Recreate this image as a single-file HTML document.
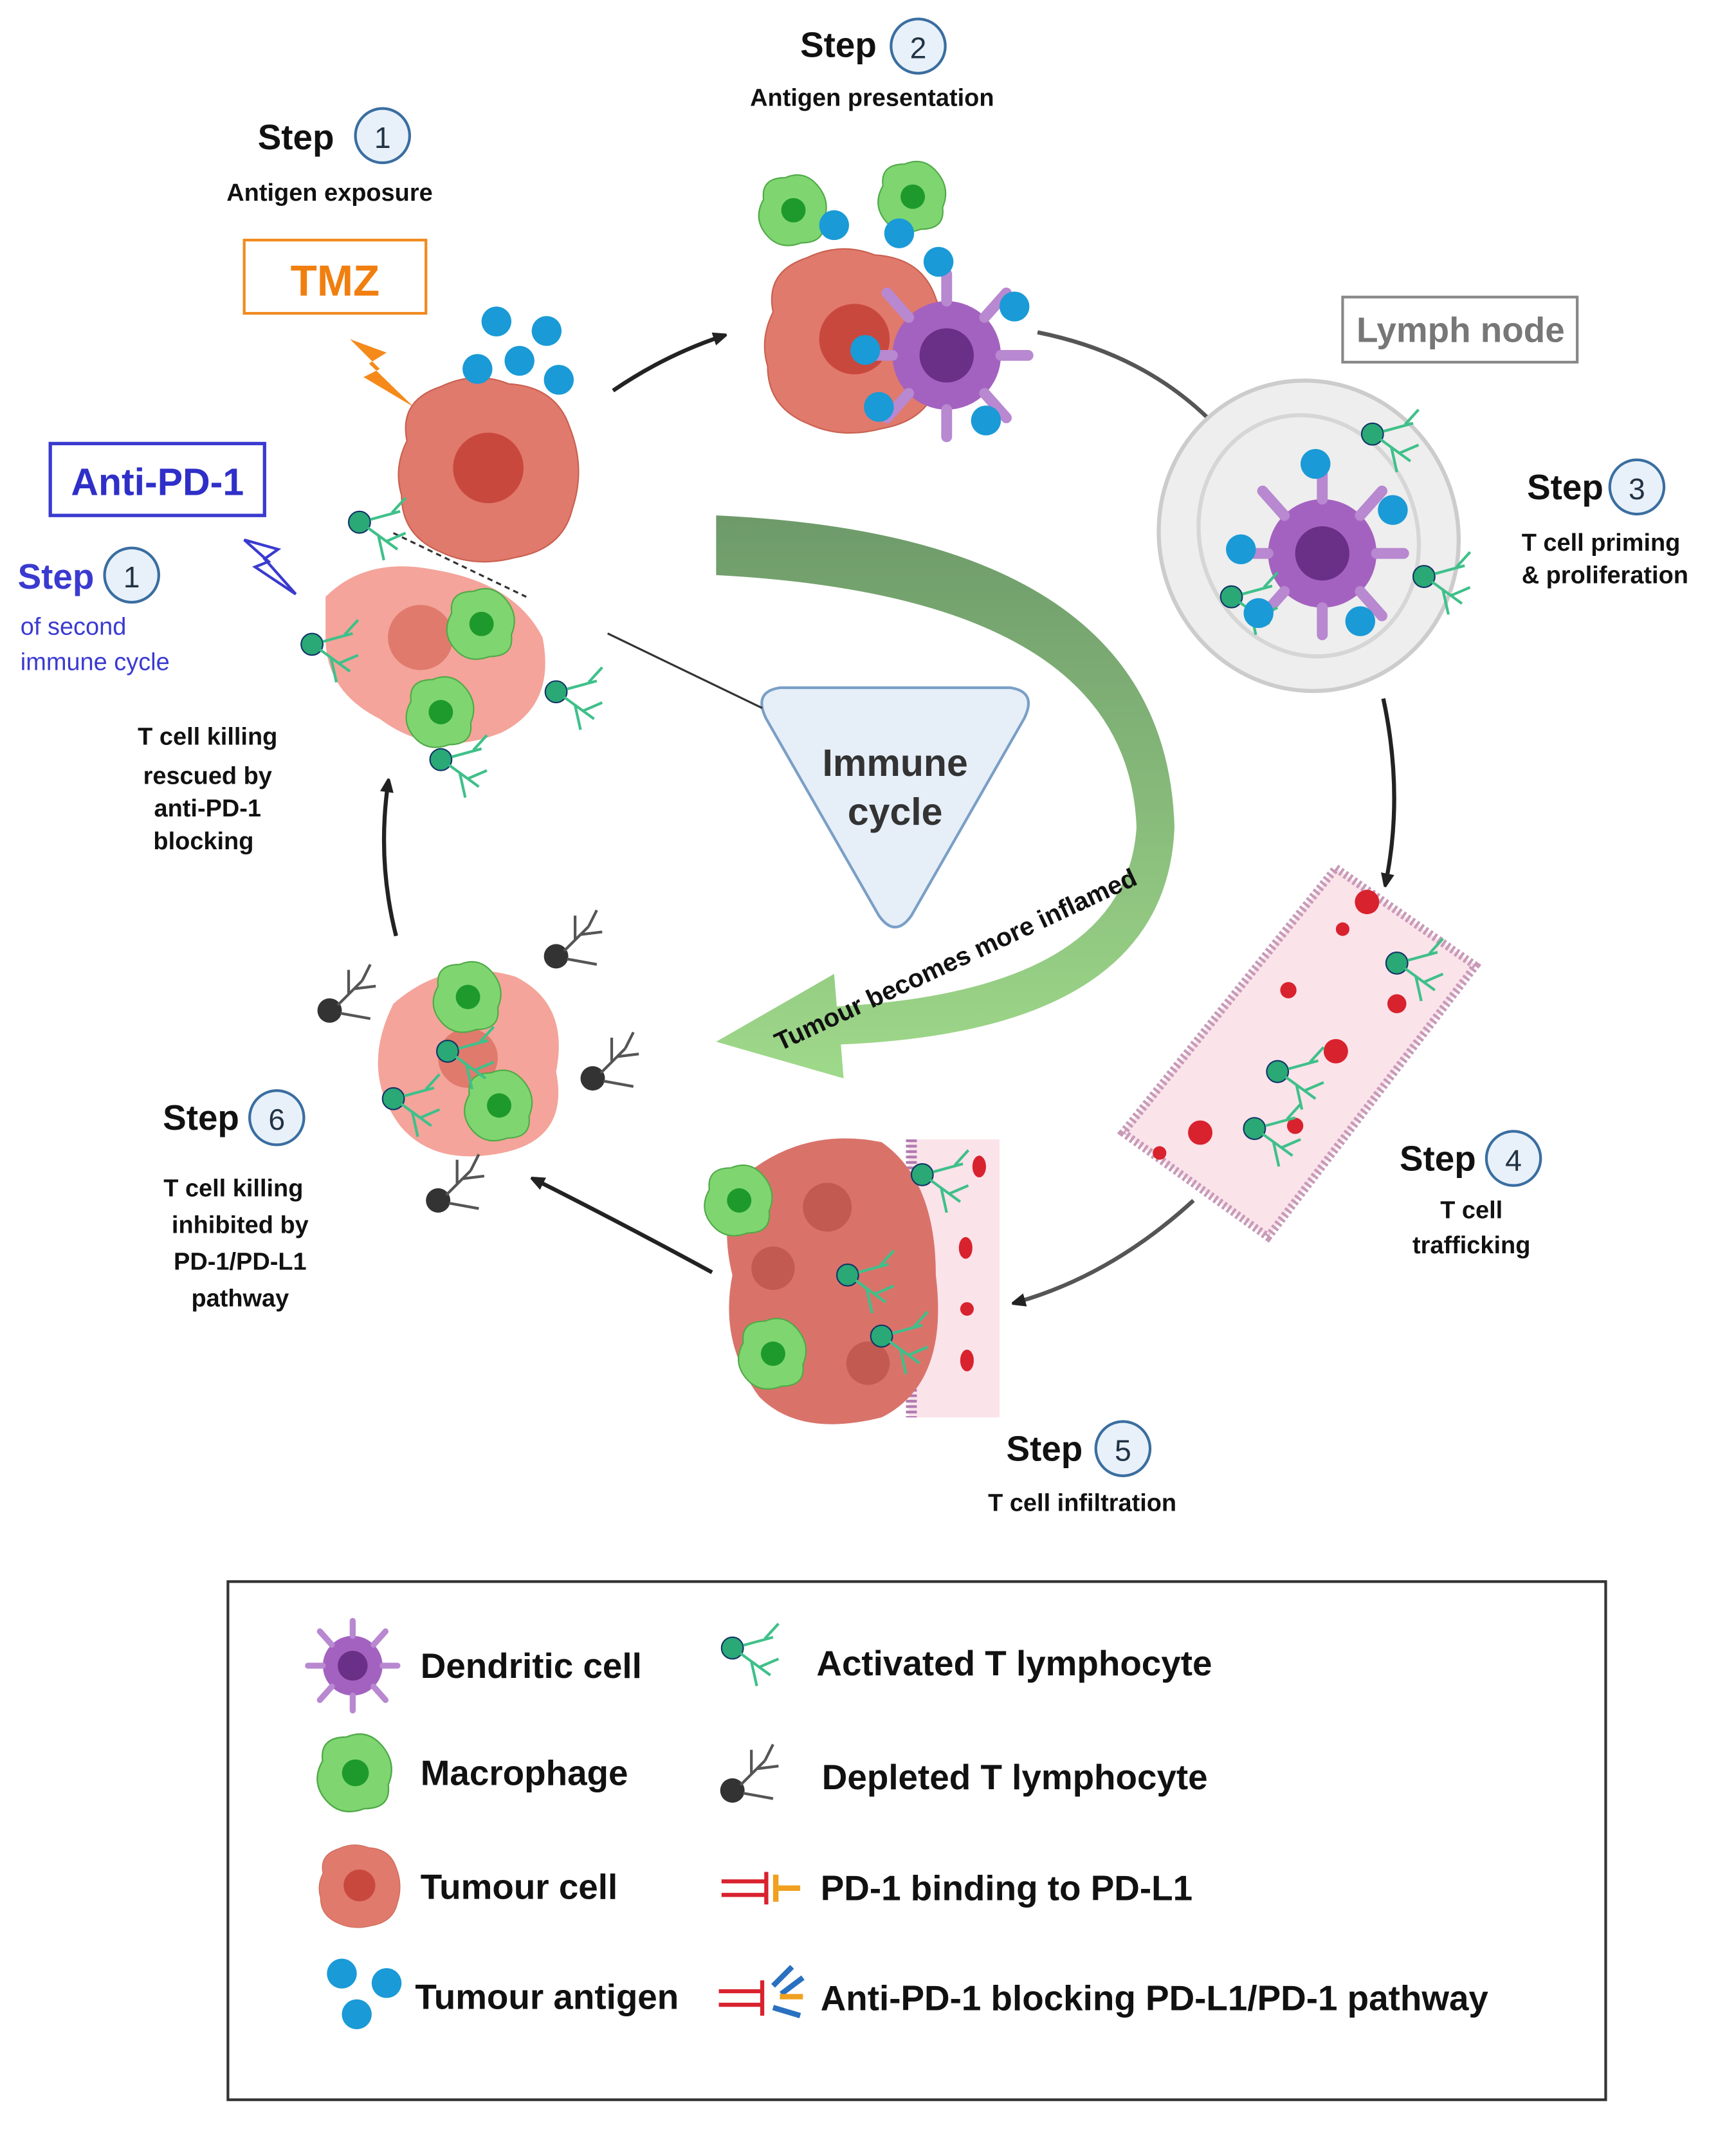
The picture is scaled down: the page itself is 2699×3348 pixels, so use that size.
<!DOCTYPE html>
<html><head><meta charset="utf-8">
<style>
html,body{margin:0;padding:0;background:#fff;}
svg{display:block;}
text{font-family:"Liberation Sans","DejaVu Sans",sans-serif;}
</style></head>
<body>
<svg width="2699" height="3348" viewBox="0 0 1280 1588" xmlns="http://www.w3.org/2000/svg">
<defs>
<marker id="ah" markerWidth="10" markerHeight="10" refX="6" refY="5" orient="auto" markerUnits="userSpaceOnUse"><path d="M0,0 L12,5 L0,10 Z" fill="#222"/></marker>
<linearGradient id="gg" x1="0" y1="0" x2="0" y2="1"><stop offset="0" stop-color="#6e9a6a"/><stop offset="1" stop-color="#9fd98a"/></linearGradient>
<g id="mac"><path d="M-22,-8 Q-24,-24 -6,-24 Q8,-30 18,-18 Q28,-6 22,8 Q24,24 6,24 Q-10,30 -20,18 Q-30,6 -22,-8Z" fill="#7fd670" stroke="#4fa947"/><circle r="9" fill="#1e9a2c"/></g>
<g id="tc"><circle r="8" fill="#2aa876" stroke="#136" stroke-width="1"/><path d="M6,4 L28,20 M14,10 L18,28 M20,14 L34,8 M8,-2 L30,-8 M24,-7 L34,-18" stroke="#3fc08a" stroke-width="2" fill="none"/></g>
<g id="dt"><circle r="9" fill="#333"/><path d="M6,-4 L24,-22 M14,-12 L14,-30 M18,-16 L34,-18 M24,-22 L30,-34 M8,2 L30,6" stroke="#555" stroke-width="2" fill="none"/></g>
<g id="ag"><circle r="11" fill="#1a9ad6"/></g>
<g id="tum"><path d="M-60,-20 Q-66,-50 -35,-60 Q-10,-72 15,-62 Q50,-60 60,-30 Q72,0 62,30 Q55,60 20,66 Q-10,74 -35,62 Q-64,50 -64,20 Q-70,0 -60,-20Z" fill="#e07a6c" stroke="#c9604f"/><circle r="26" fill="#c9483d"/></g>
<g id="dc"><circle r="40" fill="#a462c0"/><path d="M0,-40 L0,-60 M28,-28 L44,-46 M40,0 L60,0 M28,28 L44,46 M0,40 L0,60 M-28,28 L-44,46 M-40,0 L-60,0 M-28,-28 L-44,-46" stroke="#b888d0" stroke-width="8" stroke-linecap="round"/><circle r="20" fill="#6a2f86"/></g>
</defs>

<!-- big green arrow -->
<path d="M528,380 Q860,395 866,610 Q860,760 620,770 L622,795 L528,768 L615,718 L617,742 Q830,730 838,610 Q832,440 528,424 Z" fill="url(#gg)"/>
<text x="0" y="0" font-size="19" font-weight="bold" fill="#111" transform="translate(575,775) rotate(-25)">Tumour becomes more inflamed</text>

<!-- triangle -->
<path d="M575,507 L745,507 Q765,510 755,530 L672,675 Q660,692 648,675 L565,530 Q555,510 575,507Z" fill="#e6eef8" stroke="#7a9fc6" stroke-width="2"/>
<text x="660" y="572" font-size="28" font-weight="bold" text-anchor="middle" fill="#333">Immune</text>
<text x="660" y="608" font-size="28" font-weight="bold" text-anchor="middle" fill="#333">cycle</text>
<line x1="448" y1="467" x2="562" y2="522" stroke="#333" stroke-width="1.5"/>

<!-- arrows -->
<path d="M452,288 Q490,262 532,248" stroke="#222" stroke-width="3" fill="none" marker-end="url(#ah)"/>
<path d="M765,245 Q850,262 902,320" stroke="#555" stroke-width="3" fill="none" marker-end="url(#ah)"/>
<path d="M1020,515 Q1035,585 1022,650" stroke="#222" stroke-width="3" fill="none" marker-end="url(#ah)"/>
<path d="M880,885 Q820,940 750,960" stroke="#555" stroke-width="3" fill="none" marker-end="url(#ah)"/>
<path d="M525,938 Q455,900 395,870" stroke="#222" stroke-width="3" fill="none" marker-end="url(#ah)"/>
<path d="M292,690 Q278,635 286,578" stroke="#222" stroke-width="3" fill="none" marker-end="url(#ah)"/>

<!-- Step 1 -->
<text x="190" y="110" font-size="26" font-weight="bold" fill="#111">Step</text>
<circle cx="282" cy="100" r="20" fill="#e8f1fa" stroke="#3a6ea0" stroke-width="2"/><text x="282" y="109" font-size="22" text-anchor="middle" fill="#234">1</text>
<text x="243" y="148" font-size="18" font-weight="bold" text-anchor="middle" fill="#111">Antigen exposure</text>
<rect x="180" y="177" width="134" height="54" fill="#fff" stroke="#f08a1e" stroke-width="2"/>
<text x="247" y="218" font-size="32" font-weight="bold" text-anchor="middle" fill="#f07f10">TMZ</text>
<path d="M258,250 L285,260 L272,268 L305,300 L268,278 L280,272 Z" fill="#f58a1a"/>
<use href="#tum" x="360" y="345"/>
<use href="#ag" x="366" y="237"/><use href="#ag" x="403" y="244"/><use href="#ag" x="352" y="272"/><use href="#ag" x="383" y="266"/><use href="#ag" x="412" y="280"/>

<!-- Anti PD-1 -->
<rect x="37" y="327" width="158" height="53" fill="#fff" stroke="#3a3ad0" stroke-width="2.5"/>
<text x="116" y="365" font-size="28" font-weight="bold" text-anchor="middle" fill="#2f2fc8">Anti-PD-1</text>
<path d="M180,398 L205,405 L195,412 L218,438 L188,418 L198,414Z" fill="none" stroke="#3a3ad0" stroke-width="2"/>
<text x="13" y="434" font-size="26" font-weight="bold" fill="#3a3ad0">Step</text>
<circle cx="97" cy="424" r="20" fill="#e8f1fa" stroke="#3a6ea0" stroke-width="2"/><text x="97" y="433" font-size="22" text-anchor="middle" fill="#234">1</text>
<text x="15" y="468" font-size="18" fill="#3a3ad0">of second</text>
<text x="15" y="494" font-size="18" fill="#3a3ad0">immune cycle</text>
<line x1="290" y1="393" x2="388" y2="440" stroke="#333" stroke-width="1.5" stroke-dasharray="4,3"/>
<path d="M240,440 Q270,410 320,420 Q380,430 400,470 Q410,520 370,540 Q320,560 280,530 Q240,510 240,470Z" fill="#f4a49a"/>
<circle cx="310" cy="470" r="24" fill="#e07a6c"/>
<use href="#mac" x="355" y="460"/><use href="#mac" x="325" y="525"/>
<use href="#tc" x="265" y="385"/><use href="#tc" x="230" y="475"/><use href="#tc" x="410" y="510"/><use href="#tc" x="325" y="560"/>
<text x="153" y="549" font-size="18" font-weight="bold" text-anchor="middle" fill="#111">T cell killing</text>
<text x="153" y="578" font-size="18" font-weight="bold" text-anchor="middle" fill="#111">rescued by</text>
<text x="153" y="602" font-size="18" font-weight="bold" text-anchor="middle" fill="#111">anti-PD-1</text>
<text x="150" y="626" font-size="18" font-weight="bold" text-anchor="middle" fill="#111">blocking</text>

<!-- Step 2 -->
<text x="590" y="42" font-size="26" font-weight="bold" fill="#111">Step</text>
<circle cx="677" cy="34" r="20" fill="#e8f1fa" stroke="#3a6ea0" stroke-width="2"/><text x="677" y="43" font-size="22" text-anchor="middle" fill="#234">2</text>
<text x="643" y="78" font-size="18" font-weight="bold" text-anchor="middle" fill="#111">Antigen presentation</text>
<use href="#tum" x="630" y="250"/>
<use href="#dc" x="698" y="262"/>
<use href="#mac" x="585" y="155"/><use href="#mac" x="673" y="145"/>
<use href="#ag" x="615" y="166"/><use href="#ag" x="663" y="172"/><use href="#ag" x="692" y="193"/><use href="#ag" x="748" y="226"/><use href="#ag" x="648" y="300"/><use href="#ag" x="727" y="310"/><use href="#ag" x="638" y="258"/>

<!-- Step 3 lymph node -->
<rect x="990" y="219" width="173" height="48" fill="#fff" stroke="#888" stroke-width="2"/>
<text x="1077" y="252" font-size="26" font-weight="bold" text-anchor="middle" fill="#777">Lymph node</text>
<ellipse cx="965" cy="395" rx="110" ry="115" fill="#eeeeee" stroke="#ccc" stroke-width="3" transform="rotate(-20 965 395)"/>
<ellipse cx="965" cy="395" rx="80" ry="90" fill="none" stroke="#d6d6d6" stroke-width="3" transform="rotate(-20 965 395)"/>
<use href="#dc" x="975" y="408"/>
<use href="#tc" x="1012" y="320"/><use href="#tc" x="1050" y="425"/><use href="#tc" x="908" y="440"/>
<use href="#ag" x="970" y="342"/><use href="#ag" x="1027" y="376"/><use href="#ag" x="915" y="405"/><use href="#ag" x="1003" y="458"/><use href="#ag" x="928" y="452"/>
<text x="1126" y="368" font-size="26" font-weight="bold" fill="#111">Step</text>
<circle cx="1207" cy="359" r="20" fill="#e8f1fa" stroke="#3a6ea0" stroke-width="2"/><text x="1207" y="368" font-size="22" text-anchor="middle" fill="#234">3</text>
<text x="1122" y="406" font-size="18" font-weight="bold" fill="#111">T cell priming</text>
<text x="1122" y="430" font-size="18" font-weight="bold" fill="#111">&amp; proliferation</text>

<!-- Step 4 vessel -->
<path d="M985,640 L1088,712 L935,912 L828,835 Z" fill="#fbe3ea" stroke="#c89ab8" stroke-width="6" stroke-dasharray="2,2"/>
<circle cx="1008" cy="665" r="9" fill="#d8222e"/><circle cx="985" cy="775" r="9" fill="#d8222e"/><circle cx="885" cy="835" r="9" fill="#d8222e"/><circle cx="1030" cy="740" r="7" fill="#d8222e"/><circle cx="950" cy="730" r="6" fill="#d8222e"/><circle cx="990" cy="685" r="5" fill="#d8222e"/><circle cx="855" cy="850" r="5" fill="#d8222e"/><circle cx="955" cy="830" r="6" fill="#d8222e"/>
<use href="#tc" x="1030" y="710"/><use href="#tc" x="942" y="790"/><use href="#tc" x="925" y="832"/>
<text x="1032" y="863" font-size="26" font-weight="bold" fill="#111">Step</text>
<circle cx="1116" cy="854" r="20" fill="#e8f1fa" stroke="#3a6ea0" stroke-width="2"/><text x="1116" y="863" font-size="22" text-anchor="middle" fill="#234">4</text>
<text x="1085" y="898" font-size="18" font-weight="bold" text-anchor="middle" fill="#111">T cell</text>
<text x="1085" y="924" font-size="18" font-weight="bold" text-anchor="middle" fill="#111">trafficking</text>

<!-- Step 5 -->
<rect x="670" y="840" width="67" height="205" fill="#fbe3ea"/>
<line x1="672" y1="840" x2="672" y2="1045" stroke="#b07ab0" stroke-width="8" stroke-dasharray="2,2"/>
<path d="M545,870 Q590,830 650,842 Q690,870 690,940 Q700,1020 650,1045 Q590,1060 560,1030 Q530,990 540,940 Q530,900 545,870Z" fill="#d9736a"/>
<circle cx="610" cy="890" r="18" fill="#c25a52"/><circle cx="570" cy="935" r="16" fill="#c25a52"/><circle cx="640" cy="1005" r="16" fill="#c25a52"/>
<use href="#mac" x="545" y="885"/><use href="#mac" x="570" y="998"/>
<use href="#tc" x="680" y="866"/><use href="#tc" x="625" y="940"/><use href="#tc" x="650" y="985"/>
<ellipse cx="722" cy="860" rx="5" ry="8" fill="#d8222e"/><ellipse cx="712" cy="920" rx="5" ry="8" fill="#d8222e"/><circle cx="713" cy="965" r="5" fill="#d8222e"/><ellipse cx="713" cy="1003" rx="5" ry="8" fill="#d8222e"/>
<text x="742" y="1077" font-size="26" font-weight="bold" fill="#111">Step</text>
<circle cx="828" cy="1068" r="20" fill="#e8f1fa" stroke="#3a6ea0" stroke-width="2"/><text x="828" y="1077" font-size="22" text-anchor="middle" fill="#234">5</text>
<text x="798" y="1114" font-size="18" font-weight="bold" text-anchor="middle" fill="#111">T cell infiltration</text>

<!-- Step 6 -->
<path d="M290,740 Q330,705 380,720 Q420,740 410,790 Q420,840 370,850 Q320,860 295,830 Q265,790 290,740Z" fill="#f4a49a"/>
<circle cx="345" cy="780" r="22" fill="#e07a6c"/>
<use href="#mac" x="345" y="735"/><use href="#mac" x="368" y="815"/>
<use href="#tc" x="290" y="810"/><use href="#tc" x="330" y="775"/>
<use href="#dt" x="243" y="745"/><use href="#dt" x="410" y="705"/><use href="#dt" x="437" y="795"/><use href="#dt" x="323" y="885"/>
<text x="120" y="833" font-size="26" font-weight="bold" fill="#111">Step</text>
<circle cx="204" cy="824" r="20" fill="#e8f1fa" stroke="#3a6ea0" stroke-width="2"/><text x="204" y="833" font-size="22" text-anchor="middle" fill="#234">6</text>
<text x="172" y="882" font-size="18" font-weight="bold" text-anchor="middle" fill="#111">T cell killing</text>
<text x="177" y="909" font-size="18" font-weight="bold" text-anchor="middle" fill="#111">inhibited by</text>
<text x="177" y="936" font-size="18" font-weight="bold" text-anchor="middle" fill="#111">PD-1/PD-L1</text>
<text x="177" y="963" font-size="18" font-weight="bold" text-anchor="middle" fill="#111">pathway</text>

<!-- Legend -->
<rect x="168" y="1166" width="1016" height="382" fill="#fff" stroke="#333" stroke-width="2"/>
<g transform="translate(260,1228) scale(0.55)"><use href="#dc"/></g>
<text x="310" y="1237" font-size="26" font-weight="bold" fill="#111">Dendritic cell</text>
<g transform="translate(262,1307) scale(1.1)"><use href="#mac"/></g>
<text x="310" y="1316" font-size="26" font-weight="bold" fill="#111">Macrophage</text>
<g transform="translate(265,1390) scale(0.45)"><use href="#tum"/></g>
<text x="310" y="1400" font-size="26" font-weight="bold" fill="#111">Tumour cell</text>
<use href="#ag" x="252" y="1455"/><use href="#ag" x="285" y="1462"/><use href="#ag" x="263" y="1485"/>
<text x="306" y="1481" font-size="26" font-weight="bold" fill="#111">Tumour antigen</text>
<use href="#tc" x="540" y="1215"/>
<text x="602" y="1235" font-size="26" font-weight="bold" fill="#111">Activated  T lymphocyte</text>
<use href="#dt" x="540" y="1320"/>
<text x="606" y="1319" font-size="26" font-weight="bold" fill="#111">Depleted  T lymphocyte</text>
<path d="M532,1387 L565,1387 M532,1397 L565,1397 M565,1380 L565,1404" stroke="#d8222e" stroke-width="3" fill="none"/>
<path d="M572,1382 L572,1402 M572,1392 L590,1392" stroke="#f0a020" stroke-width="4" fill="none"/>
<text x="605" y="1401" font-size="26" font-weight="bold" fill="#111">PD-1 binding to PD-L1</text>
<path d="M530,1468 L562,1468 M530,1478 L562,1478 M562,1460 L562,1486" stroke="#d8222e" stroke-width="3" fill="none"/>
<path d="M570,1464 L584,1450 M576,1470 L592,1458 M570,1480 L590,1486" stroke="#2a70c0" stroke-width="4" fill="none"/>
<path d="M575,1472 L592,1472" stroke="#f0a020" stroke-width="4"/>
<text x="605" y="1482" font-size="26" font-weight="bold" fill="#111">Anti-PD-1 blocking PD-L1/PD-1 pathway</text>
</svg>
</body></html>
